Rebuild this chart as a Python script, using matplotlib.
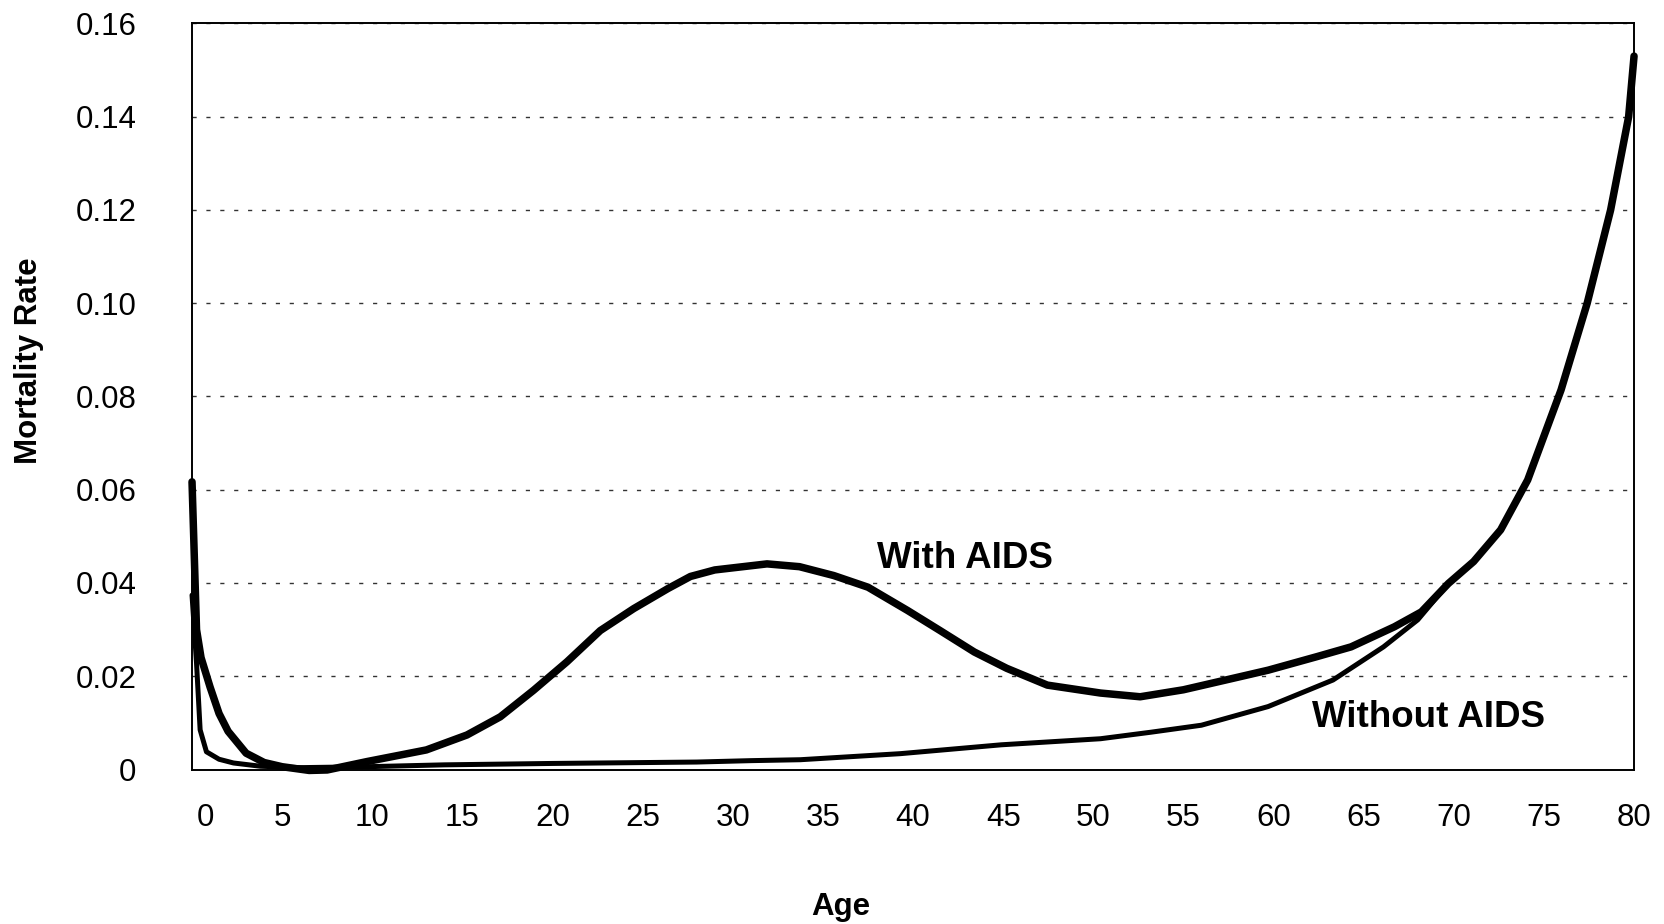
import matplotlib
matplotlib.use("Agg")
import matplotlib.pyplot as plt
import matplotlib.transforms as mtransforms

# ---- data ----
ages_with = [0, 0.25, 0.5, 1.0, 1.5, 2.0, 3.0, 4.0, 5.0, 6.5, 7.5, 9.7, 13.0, 15.25,
             17.1, 18.95, 20.8, 22.65, 24.5, 26.4, 27.65, 29.0, 31.9, 33.7, 35.6,
             37.5, 39.7, 41.5, 43.4, 45.2, 47.45, 50.4, 52.6, 55.0, 57.8, 59.7,
             62.4, 64.3, 66.7, 68.2, 69.7, 71.1, 72.6, 74.1, 75.95, 77.4, 78.7,
             79.7, 80.0]
mort_with = [0.0617, 0.0300, 0.0240, 0.0177, 0.0120, 0.0082, 0.0035, 0.0015, 0.0006,
             -0.0002, -0.0001, 0.0017, 0.0042, 0.0074, 0.0113, 0.0170, 0.0231,
             0.0298, 0.0345, 0.0388, 0.0414, 0.0428, 0.0441, 0.0435, 0.0416,
             0.0391, 0.0341, 0.0298, 0.0252, 0.0217, 0.0181, 0.0164, 0.0156,
             0.0171, 0.0196, 0.0213, 0.0242, 0.0263, 0.0306, 0.0338, 0.0399,
             0.0446, 0.0514, 0.0621, 0.0814, 0.1000, 0.1200, 0.1400, 0.1530]

ages_without = [0, 0.25, 0.45, 0.8, 1.5, 2.3, 3.8, 6.0, 9.7, 14.0, 20.0, 28.0, 31.0,
                33.75, 39.3, 44.9, 50.4, 53.2, 56.0, 59.7, 63.3, 66.1, 68.0, 69.7]
mort_without = [0.0374, 0.0228, 0.0085, 0.0038, 0.0022, 0.0014, 0.0007, 0.0004,
                0.0006, 0.0010, 0.0013, 0.0016, 0.0019, 0.0021, 0.0034, 0.0053,
                0.0066, 0.0080, 0.0095, 0.0135, 0.0192, 0.0263, 0.0321, 0.0399]

x_ticks = list(range(0, 81, 5))
y_ticks = [0, 0.02, 0.04, 0.06, 0.08, 0.10, 0.12, 0.14, 0.16]
y_tick_labels = ["0", "0.02", "0.04", "0.06", "0.08", "0.10", "0.12", "0.14", "0.16"]

label_with = "With AIDS"
label_without = "Without AIDS"
x_title = "Age"
y_title = "Mortality Rate"

# ---- figure ----
plt.rcParams['font.family'] = ['Liberation Sans', 'DejaVu Sans']

fig = plt.figure(figsize=(16.64, 9.24), dpi=100)
ax = fig.add_axes([0.1154, 0.1672, 0.9820 - 0.1154, 0.9746 - 0.1672])

ax.plot(ages_without, mort_without, color='black', lw=3.6,
        solid_joinstyle='round', solid_capstyle='round', clip_on=False, zorder=3)
ax.plot(ages_with, mort_with, color='black', lw=5.4,
        solid_joinstyle='round', solid_capstyle='round', clip_on=False, zorder=4)

ax.set_xlim(0, 80)
ax.set_ylim(0, 0.16)

ax.set_yticks(y_ticks)
ax.set_yticklabels(y_tick_labels)
ax.set_xticks(x_ticks)
ax.set_xticklabels([str(v) for v in x_ticks])
ax.tick_params(axis='y', length=0, pad=40, labelsize=22.5)
ax.tick_params(axis='x', length=0, pad=24, labelsize=22.5)

# shift the "0" label slightly to the right as in the reference
lbl0 = ax.get_xticklabels()[0]
lbl0.set_transform(lbl0.get_transform() +
                   mtransforms.ScaledTranslation(13 / 100, 0, fig.dpi_scale_trans))

ax.yaxis.grid(True, linestyle=(0, (3, 7)), color='#333333', lw=1.0)
ax.xaxis.grid(False)
ax.set_axisbelow(True)

for s in ax.spines.values():
    s.set_linewidth(1.4)
    s.set_color('black')

ax.set_xlabel(x_title, fontsize=22.5, fontweight='bold', va='center', ha='center')
ax.set_ylabel(y_title, fontsize=22.5, fontweight='bold', va='center', ha='center')
ax.xaxis.set_label_coords(0.45, -0.184)
ax.yaxis.set_label_coords(-0.113, 0.548)

ax.text(42.9, 0.0453, label_with, fontsize=26.5, fontweight='bold',
        ha='center', va='center')
ax.text(68.6, 0.0112, label_without, fontsize=26.5, fontweight='bold',
        ha='center', va='center')

fig.savefig("out.png", dpi=100)
